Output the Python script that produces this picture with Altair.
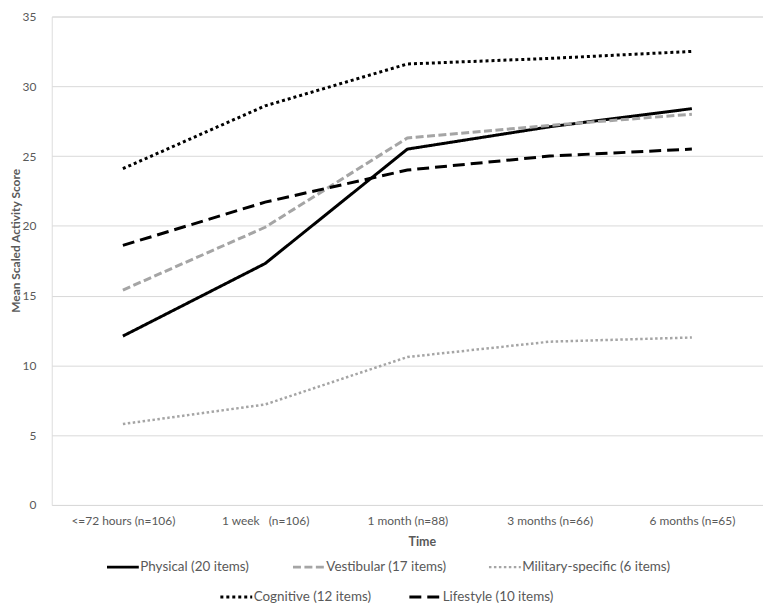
import altair as alt
import pandas as pd

times = ["<=72 hours (n=106)", "1 week\u00a0\u00a0 (n=106)", "1 month (n=88)",
         "3 months (n=66)", "6 months (n=65)"]

series_names = ["Physical (20 items)", "Vestibular (17 items)", "Military-specific (6 items)",
                "Cognitive  (12 items)", "Lifestyle (10 items)"]

physical = [12.1, 17.3, 25.5, 27.1, 28.4]
vestibular = [15.4, 19.9, 26.3, 27.2, 28.0]
military = [5.8, 7.2, 10.6, 11.7, 12.0]
cognitive = [24.1, 28.6, 31.6, 32.0, 32.5]
lifestyle = [18.6, 21.7, 24.0, 25.0, 25.5]

values = [physical, vestibular, military, cognitive, lifestyle]

colors = ["#000000", "#a5a5a5", "#a5a5a5", "#000000", "#000000"]
dashes = [[1, 0], [8, 3.5], [2.5, 2.5], [3, 3], [12, 6]]
widths = [3, 3, 2.5, 3, 3]
legend_pos = [(54, 536), (241, 536), (438, 536), (168, 566), (358, 566)]

rows = []
for name, vals in zip(series_names, values):
    for t, v in zip(times, vals):
        rows.append({"time": t, "series": name, "value": v})
df = pd.DataFrame(rows)

FONT = "Lato"
TXT = "#595959"

x_enc = alt.X("time:N", sort=times, title="Time",
              scale=alt.Scale(type="point", padding=0.5),
              axis=alt.Axis(labelAngle=0, ticks=False, domain=False, grid=False,
                            labelPadding=11, labelFontSize=12, labelColor=TXT, labelFont=FONT,
                            titleFont=FONT, titleFontSize=12.5, titleFontWeight="bold",
                            titleColor=TXT, titleX=372, titleY=37,
                            titleAlign="center", titleBaseline="middle"))
y_enc = alt.Y("value:Q", title="Mean Scaled Activity Score",
              scale=alt.Scale(domain=[0, 35], nice=False),
              axis=alt.Axis(values=[0, 5, 10, 15, 20, 25, 30, 35], ticks=False, domain=False,
                            grid=True, gridColor="#d9d9d9", gridWidth=1,
                            labelPadding=16, labelFontSize=12, labelColor=TXT, labelFont=FONT,
                            titleFont=FONT, titleFontSize=12, titleFontWeight="bold",
                            titleColor=TXT, titleAngle=270, titleX=-36, titleY=225,
                            titleAlign="center", titleBaseline="middle"))

layers = []
for i, name in enumerate(series_names):
    lx, ly = legend_pos[i]
    leg = alt.Legend(orient="none", legendX=lx, legendY=ly, title=None,
                     direction="horizontal", symbolType="stroke", symbolSize=1024,
                     symbolStrokeWidth=widths[i],
                     labelFont=FONT, labelFontSize=13.5, labelColor=TXT, labelOffset=0,
                     padding=0)
    layers.append(
        alt.Chart(df[df.series == name]).mark_line(strokeWidth=widths[i]).encode(
            x=x_enc,
            y=y_enc,
            color=alt.Color("series:N", scale=alt.Scale(domain=[name], range=[colors[i]]), legend=leg),
            strokeDash=alt.StrokeDash("series:N", scale=alt.Scale(domain=[name], range=[dashes[i]]), legend=leg),
        )
    )

chart = alt.layer(*layers).resolve_scale(
    color="independent", strokeDash="independent"
).resolve_legend(
    color="independent", strokeDash="independent"
).properties(
    width=715, height=491,
    autosize=alt.AutoSizeParams(type="none"),
    padding={"left": 44, "top": 7, "right": 0, "bottom": 100},
).configure_view(stroke=None).configure(background="white")

chart.save("out.html", embed_options={"renderer": "svg", "actions": False})
